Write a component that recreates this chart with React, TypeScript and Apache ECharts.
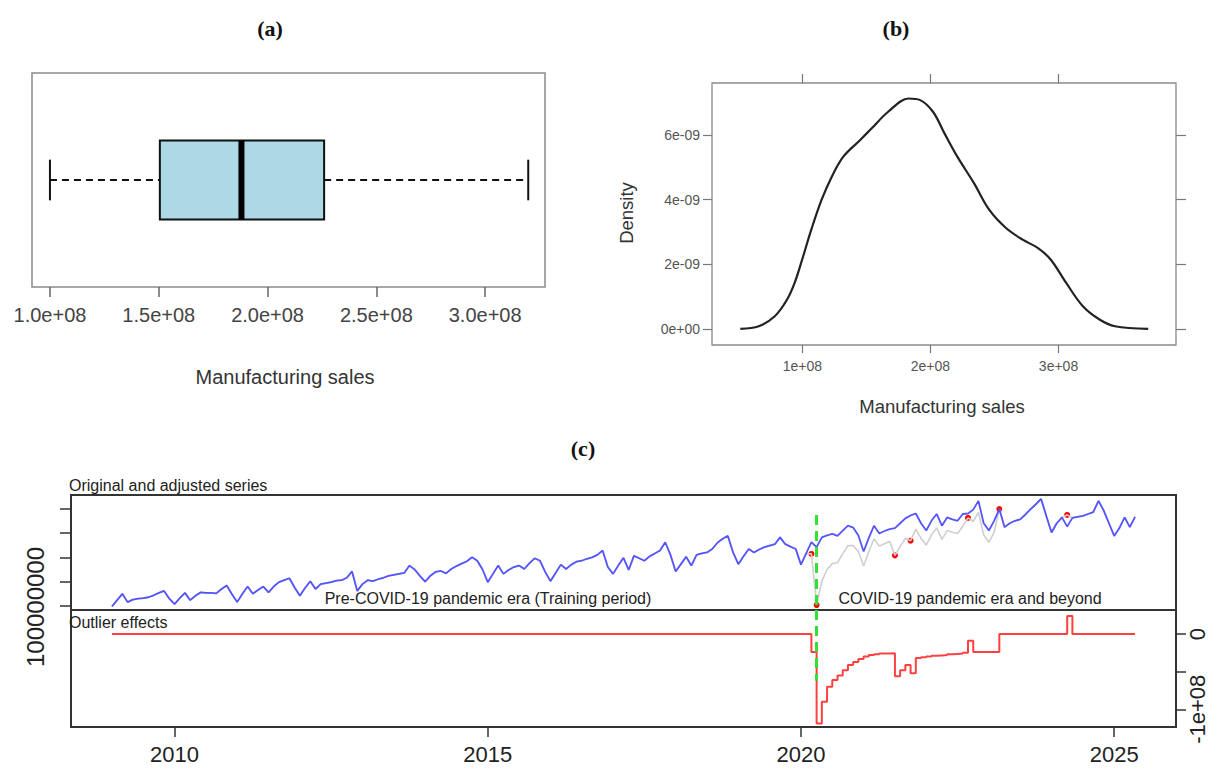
import React, { useEffect, useRef } from "react";
import * as echarts from "echarts";

// ---------- Panel (a): boxplot of manufacturing sales (units: 1e8) ----------
const boxStats = [1.0, 1.505, 1.88, 2.26, 3.198]; // min, Q1, median, Q3, max
const boxTicks = [1.0, 1.5, 2.0, 2.5, 3.0];

// ---------- Panel (b): kernel density (x: 1e8, y: 1e-9) ----------
const densityX = [0.516, 0.66, 0.785, 0.88, 0.94, 1.006, 1.07, 1.15, 1.23, 1.32, 1.45, 1.54, 1.67, 1.83, 1.92, 2.02, 2.11, 2.21, 2.34, 2.46, 2.59, 2.72, 2.84, 2.94, 3.06, 3.19, 3.32, 3.44, 3.7];
const densityY = [0, 0.08, 0.39, 0.9, 1.42, 2.24, 3.07, 3.99, 4.71, 5.33, 5.84, 6.2, 6.72, 7.13, 7.08, 6.72, 6.05, 5.33, 4.51, 3.68, 3.12, 2.76, 2.5, 2.14, 1.42, 0.7, 0.29, 0.08, 0];
const densityXTicks = [1, 2, 3];
const densityYTicks = [0, 2, 4, 6];

// ---------- Panel (c): monthly series Jan 2009 - May 2025 (units: 1e8) ----------
const startYear = 2009;
const adjustedSeries = [
  0.99, 1.12, 1.25, 1.08, 1.13, 1.15, 1.16, 1.18, 1.22, 1.27, 1.31, 1.15,
  1.04, 1.16, 1.27, 1.12, 1.21, 1.28, 1.27, 1.27, 1.26, 1.35, 1.42, 1.24,
  1.08, 1.25, 1.40, 1.25, 1.33, 1.40, 1.28, 1.40, 1.49, 1.53, 1.57, 1.38,
  1.21, 1.37, 1.51, 1.35, 1.45, 1.47, 1.49, 1.52, 1.53, 1.58, 1.71, 1.31,
  1.45, 1.53, 1.51, 1.55, 1.58, 1.62, 1.64, 1.66, 1.68, 1.83, 1.75, 1.62,
  1.50, 1.62, 1.70, 1.72, 1.67, 1.76, 1.82, 1.87, 1.92, 2.00, 1.93, 1.75,
  1.49, 1.66, 1.83, 1.66, 1.74, 1.80, 1.83, 1.76, 1.88, 1.98, 1.93, 1.70,
  1.51, 1.68, 1.85, 1.76, 1.85, 1.91, 1.93, 1.97, 2.00, 2.05, 2.14, 1.80,
  1.66, 1.83, 1.99, 1.74, 2.03, 1.98, 1.93, 2.02, 2.08, 2.14, 2.31, 2.05,
  1.71, 1.86, 2.01, 1.83, 2.05, 2.08, 2.10, 2.17, 2.30, 2.38, 2.44, 2.10,
  1.86, 2.02, 2.17, 2.10, 2.16, 2.21, 2.24, 2.27, 2.41, 2.27, 2.22, 2.17,
  1.85, 2.08, 2.31, 2.21, 2.41, 2.45, 2.48, 2.44, 2.55, 2.65, 2.61, 2.45,
  2.12, 2.40, 2.65, 2.49, 2.54, 2.58, 2.60, 2.70, 2.80, 2.86, 2.90, 2.70,
  2.55, 2.75, 2.89, 2.65, 2.82, 2.78, 2.75, 2.89, 2.90, 2.98, 3.16, 2.70,
  2.55, 2.75, 2.99, 2.62, 2.70, 2.75, 2.78, 2.88, 2.99, 3.09, 3.20, 2.85,
  2.51, 2.70, 2.82, 2.63, 2.81, 2.83, 2.85, 2.89, 2.93, 3.16, 2.96, 2.70,
  2.44, 2.60, 2.82, 2.62, 2.83,
];
const outlierEffects = [
  0, 0, 0, 0, 0, 0, 0, 0, 0, 0, 0, 0,
  0, 0, 0, 0, 0, 0, 0, 0, 0, 0, 0, 0,
  0, 0, 0, 0, 0, 0, 0, 0, 0, 0, 0, 0,
  0, 0, 0, 0, 0, 0, 0, 0, 0, 0, 0, 0,
  0, 0, 0, 0, 0, 0, 0, 0, 0, 0, 0, 0,
  0, 0, 0, 0, 0, 0, 0, 0, 0, 0, 0, 0,
  0, 0, 0, 0, 0, 0, 0, 0, 0, 0, 0, 0,
  0, 0, 0, 0, 0, 0, 0, 0, 0, 0, 0, 0,
  0, 0, 0, 0, 0, 0, 0, 0, 0, 0, 0, 0,
  0, 0, 0, 0, 0, 0, 0, 0, 0, 0, 0, 0,
  0, 0, 0, 0, 0, 0, 0, 0, 0, 0, 0, 0,
  0, 0, -0.24, -1.19, -0.90, -0.70, -0.61, -0.55, -0.48, -0.41, -0.37, -0.33,
  -0.30, -0.28, -0.27, -0.26, -0.26, -0.255, -0.56, -0.48, -0.41, -0.52, -0.32, -0.31,
  -0.30, -0.29, -0.285, -0.28, -0.27, -0.265, -0.26, -0.25, -0.09, -0.24, -0.24, -0.24,
  -0.24, -0.24, 0, 0, 0, 0, 0, 0, 0, 0, 0, 0,
  0, 0, 0, 0.24, 0, 0, 0, 0, 0, 0, 0, 0,
  0, 0, 0, 0, 0,
];
const outlierIndex = [134, 135, 150, 153, 164, 170, 183];
const covidIndex = 135;
const yearTicks = [2010, 2015, 2020, 2025];
const levelTicks = [1.0, 1.5, 2.0, 2.5, 3.0];
const effectTicks = [0, -0.5, -1];
const effectLabels = [0, -1];

const SANS = "'Liberation Sans', Arial, sans-serif";
const SERIF = "'Liberation Serif', 'Times New Roman', serif";

export default function App() {
  const ref = useRef<HTMLDivElement | null>(null);

  useEffect(() => {
    if (!ref.current) return;
    const chart = echarts.init(ref.current, undefined, { renderer: "svg" });

    const months = adjustedSeries.map((_, i) => startYear + i / 12);
    const originalSeries = adjustedSeries.map((v, i) => v + outlierEffects[i]);
    const covidX = months[covidIndex];

    const cMin = 2008.347;
    const cMax = 2025.987;
    const noLine = { show: false, onZero: false };

    const option: any = {
      animation: false,
      backgroundColor: "#ffffff",
      textStyle: { fontFamily: SANS },
      grid: [
        { left: 32, top: 73, width: 513, height: 214, show: true, borderColor: "#8a8a8a", borderWidth: 1.5, outerBoundsMode: "none" },
        { left: 712, top: 83, width: 464, height: 262, show: true, borderColor: "#8a8a8a", borderWidth: 1.3, outerBoundsMode: "none" },
        { left: 71, top: 495, width: 1105, height: 115, show: true, borderColor: "#333", borderWidth: 2, outerBoundsMode: "none" },
        { left: 71, top: 610, width: 1105, height: 117, show: true, borderColor: "#333", borderWidth: 2, outerBoundsMode: "none" },
      ],
      xAxis: [
        {
          gridIndex: 0, type: "value", position: "bottom", min: 0.9175, max: 3.275,
          axisLine: noLine, splitLine: { show: false },
          axisTick: { customValues: boxTicks, length: 10, lineStyle: { color: "#666", width: 1.5 } },
          axisLabel: { customValues: boxTicks, formatter: (v: number) => v.toFixed(1) + "e+08", fontSize: 20, color: "#444", margin: 18, fontFamily: SANS },
        },
        {
          gridIndex: 1, type: "value", position: "bottom", min: 0.295, max: 3.917,
          axisLine: noLine, splitLine: { show: false },
          axisTick: { customValues: densityXTicks, length: 8, lineStyle: { color: "#777", width: 1.2 } },
          axisLabel: { customValues: densityXTicks, formatter: (v: number) => v + "e+08", fontSize: 14, color: "#555", margin: 14, fontFamily: SANS },
        },
        {
          gridIndex: 1, type: "value", position: "top", min: 0.295, max: 3.917,
          axisLine: noLine, splitLine: { show: false },
          axisTick: { customValues: densityXTicks, length: 9, lineStyle: { color: "#777", width: 1.2 } },
          axisLabel: { show: false },
        },
        { gridIndex: 2, type: "value", min: cMin, max: cMax, show: false },
        {
          gridIndex: 3, type: "value", position: "bottom", min: cMin, max: cMax,
          axisLine: noLine, splitLine: { show: false },
          axisTick: { customValues: yearTicks, length: 10, lineStyle: { color: "#333", width: 1.5 } },
          axisLabel: { customValues: yearTicks, formatter: (v: number) => String(v), fontSize: 22, color: "#222", margin: 16, fontFamily: SANS },
        },
      ],
      yAxis: [
        { gridIndex: 0, type: "value", min: -1, max: 1, show: false },
        {
          gridIndex: 1, type: "value", position: "left", min: -0.5, max: 7.61,
          axisLine: noLine, splitLine: { show: false },
          axisTick: { customValues: densityYTicks, length: 9, lineStyle: { color: "#777", width: 1.2 } },
          axisLabel: { customValues: densityYTicks, formatter: (v: number) => (v === 0 ? "0e+00" : v + "e-09"), fontSize: 14, color: "#555", margin: 12, fontFamily: SANS },
        },
        {
          gridIndex: 1, type: "value", position: "right", min: -0.5, max: 7.61,
          axisLine: noLine, splitLine: { show: false },
          axisTick: { customValues: densityYTicks, length: 10, lineStyle: { color: "#777", width: 1.2 } },
          axisLabel: { show: false },
        },
        {
          gridIndex: 2, type: "value", position: "left", min: 0.918, max: 3.28,
          axisLine: noLine, splitLine: { show: false },
          axisTick: { customValues: levelTicks, length: 11, lineStyle: { color: "#333", width: 1.5 } },
          axisLabel: { show: false },
        },
        {
          gridIndex: 3, type: "value", position: "right", min: -1.236, max: 0.32,
          axisLine: noLine, splitLine: { show: false },
          axisTick: { customValues: effectTicks, length: 10, lineStyle: { color: "#333", width: 1.5 } },
          axisLabel: { customValues: effectLabels, formatter: (v: number) => (v === 0 ? "0" : "-1e+08"), rotate: 90, fontSize: 22, color: "#222", margin: 10, fontFamily: SANS },
        },
      ],
      graphic: [
        { type: "text", x: 270, y: 28, style: { text: "(a)", font: "bold 22px " + SERIF, fill: "#111", align: "center", verticalAlign: "middle" } },
        { type: "text", x: 896, y: 28, style: { text: "(b)", font: "bold 22px " + SERIF, fill: "#111", align: "center", verticalAlign: "middle" } },
        { type: "text", x: 583, y: 448, style: { text: "(c)", font: "bold 22px " + SERIF, fill: "#111", align: "center", verticalAlign: "middle" } },
        { type: "text", x: 285, y: 377, style: { text: "Manufacturing sales", font: "20px " + SANS, fill: "#333", align: "center", verticalAlign: "middle" } },
        { type: "text", x: 942, y: 406, style: { text: "Manufacturing sales", font: "18.5px " + SANS, fill: "#333", align: "center", verticalAlign: "middle" } },
        { type: "text", x: 626, y: 213, rotation: Math.PI / 2, style: { text: "Density", font: "18.5px " + SANS, fill: "#333", align: "center", verticalAlign: "middle" } },
        { type: "text", x: 69, y: 485, style: { text: "Original and adjusted series", font: "16px " + SANS, fill: "#222", align: "left", verticalAlign: "middle" } },
        { type: "text", x: 69, y: 622, style: { text: "Outlier effects", font: "16px " + SANS, fill: "#222", align: "left", verticalAlign: "middle" } },
        { type: "text", x: 488, y: 598, style: { text: "Pre-COVID-19 pandemic era (Training period)", font: "16px " + SANS, fill: "#222", align: "center", verticalAlign: "middle" } },
        { type: "text", x: 970, y: 598, style: { text: "COVID-19 pandemic era and beyond", font: "16px " + SANS, fill: "#222", align: "center", verticalAlign: "middle" } },
        { type: "text", x: 35, y: 607, rotation: Math.PI / 2, style: { text: "100000000", font: "24px " + SANS, fill: "#222", align: "center", verticalAlign: "middle" } },
      ],
      series: [
        {
          type: "custom",
          xAxisIndex: 0,
          yAxisIndex: 0,
          data: [[...boxStats, 0]],
          encode: { x: [0, 1, 2, 3, 4], y: 5 },
          renderItem: (params: any, api: any) => {
            const yc = api.value(5);
            const pMin = api.coord([api.value(0), yc]);
            const pQ1 = api.coord([api.value(1), yc]);
            const pMed = api.coord([api.value(2), yc]);
            const pQ3 = api.coord([api.value(3), yc]);
            const pMax = api.coord([api.value(4), yc]);
            const boxTop = api.coord([api.value(1), yc + 0.37])[1];
            const boxBot = api.coord([api.value(1), yc - 0.37])[1];
            const capTop = api.coord([api.value(0), yc + 0.19])[1];
            const capBot = api.coord([api.value(0), yc - 0.19])[1];
            const cy = pMin[1];
            const dash = { stroke: "#111", lineWidth: 2, lineDash: [7, 5] };
            const solid = { stroke: "#111", lineWidth: 2 };
            return {
              type: "group",
              children: [
                { type: "line", shape: { x1: pMin[0], y1: cy, x2: pQ1[0], y2: cy }, style: dash },
                { type: "line", shape: { x1: pQ3[0], y1: cy, x2: pMax[0], y2: cy }, style: dash },
                { type: "line", shape: { x1: pMin[0], y1: capTop, x2: pMin[0], y2: capBot }, style: solid },
                { type: "line", shape: { x1: pMax[0], y1: capTop, x2: pMax[0], y2: capBot }, style: solid },
                { type: "rect", shape: { x: pQ1[0], y: boxTop, width: pQ3[0] - pQ1[0], height: boxBot - boxTop }, style: { fill: "#ADD8E6", stroke: "#111", lineWidth: 2 } },
                { type: "line", shape: { x1: pMed[0], y1: boxTop, x2: pMed[0], y2: boxBot }, style: { stroke: "#000", lineWidth: 6 } },
              ],
            };
          },
        },
        {
          type: "line",
          xAxisIndex: 1,
          yAxisIndex: 1,
          data: densityX.map((x, i) => [x, densityY[i]]),
          smooth: 0.35,
          showSymbol: false,
          lineStyle: { color: "#222", width: 2.2 },
        },
        {
          type: "line",
          xAxisIndex: 3,
          yAxisIndex: 3,
          data: months.map((m, i) => [m, originalSeries[i]]),
          showSymbol: false,
          lineStyle: { color: "#cfcfcf", width: 1.6 },
        },
        {
          type: "line",
          xAxisIndex: 3,
          yAxisIndex: 3,
          data: months.map((m, i) => [m, adjustedSeries[i]]),
          showSymbol: false,
          lineStyle: { color: "#5555ff", width: 1.8 },
        },
        {
          type: "scatter",
          xAxisIndex: 3,
          yAxisIndex: 3,
          data: outlierIndex.map((i) => [months[i], originalSeries[i]]),
          symbolSize: 6,
          itemStyle: { color: "#ff0000", opacity: 1 },
          markLine: {
            silent: true,
            symbol: "none",
            label: { show: false },
            lineStyle: { color: "#33e033", type: [10, 6], width: 3 },
            data: [[{ coord: [covidX, 2.87] }, { coord: [covidX, 0.918] }]],
          },
        },
        {
          type: "line",
          xAxisIndex: 4,
          yAxisIndex: 4,
          data: months.map((m, i) => [m, outlierEffects[i]]),
          step: "end",
          showSymbol: false,
          lineStyle: { color: "#ff4040", width: 2 },
          markLine: {
            silent: true,
            symbol: "none",
            label: { show: false },
            lineStyle: { color: "#33e033", type: [10, 6], width: 3 },
            data: [[{ coord: [covidX, 0.32] }, { coord: [covidX, -0.62] }]],
          },
        },
      ],
    };

    chart.setOption(option);
    return () => chart.dispose();
  }, []);

  return (
    <div
      ref={ref}
      style={{ position: "absolute", left: 0, top: 0, width: 1219, height: 770, background: "#fff" }}
    />
  );
}
